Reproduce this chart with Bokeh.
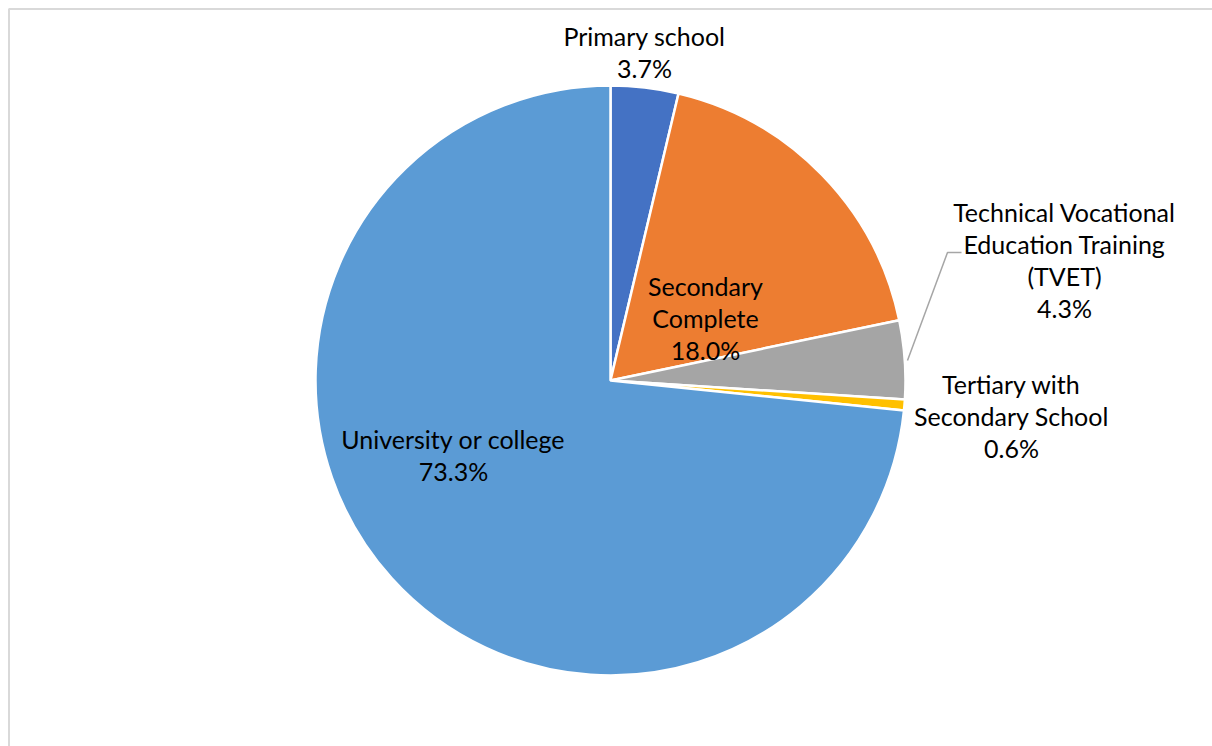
import numpy as np
from bokeh.plotting import figure
from bokeh.models import Range1d, ColumnDataSource
from bokeh.core.properties import value
from bokeh.embed import file_html
from bokeh.resources import INLINE

# ---- data ----
categories = [
    "Primary school",
    "Secondary Complete",
    "Technical Vocational Education Training (TVET)",
    "Tertiary with Secondary School",
    "University or college",
]
shares = [3.7, 18.0, 4.3, 0.6, 73.3]
colors = ["#4472C4", "#ED7D31", "#A5A5A5", "#FFC000", "#5B9BD5"]

# ---- layout ----
W, H = 1212, 746
CX, CY, R = 610, 380, 295
FONT = "Lato"
FS = "25px"
STEP = 32


def Y(y):
    return H - np.asarray(y, dtype=float)


p = figure(width=W, height=H, x_range=Range1d(0, W), y_range=Range1d(0, H),
           output_backend="svg", toolbar_location=None, min_border=0)
p.axis.visible = False
p.grid.visible = False
p.outline_line_color = None
p.background_fill_color = "white"
p.border_fill_color = "white"

# chart-area border (top and left edges visible)
p.line([8, W + 10], Y([8.5, 8.5]), line_color="#D9D9D9", line_width=2)
p.line([8.5, 8.5], Y([8.5, H + 10]), line_color="#D9D9D9", line_width=2)

frac = np.array(shares) / sum(shares)
cum = np.concatenate([[0.0], np.cumsum(frac)])
start = np.pi / 2 - cum[1:] * 2 * np.pi
end = np.pi / 2 - cum[:-1] * 2 * np.pi

src = ColumnDataSource(dict(start=start, end=end, color=colors, cat=categories, share=shares))
p.wedge(x=CX, y=float(Y(CY)), radius=R, start_angle="start", end_angle="end",
        fill_color="color", line_color="white", line_width=2.5, source=src)

# labels
wraps = [
    ["Primary school"],
    ["Secondary", "Complete"],
    ["Technical Vocational", "Education Training", "(TVET)"],
    ["Tertiary with", "Secondary School"],
    ["University or college"],
]
anchors = [(644, 35), (705, 285), (1064, 211), (1011, 383), (453, 438)]

xs, ys, txt = [], [], []
for lines, s, (ax, ay) in zip(wraps, shares, anchors):
    allines = lines + [f"{s:.1f}%"]
    for i, t in enumerate(allines):
        xs.append(ax)
        ys.append(ay + i * STEP)
        txt.append(t)

p.text(x=xs, y=list(Y(ys)), text=txt, text_align="center", text_baseline="middle",
       text_font=value(FONT), text_font_size=FS, text_color="#000000")

# leader line for TVET
p.line([907, 947, 961], Y([360, 252, 252]), line_color="#A6A6A6", line_width=1.5)

open("out.html", "w").write(file_html(p, INLINE))
